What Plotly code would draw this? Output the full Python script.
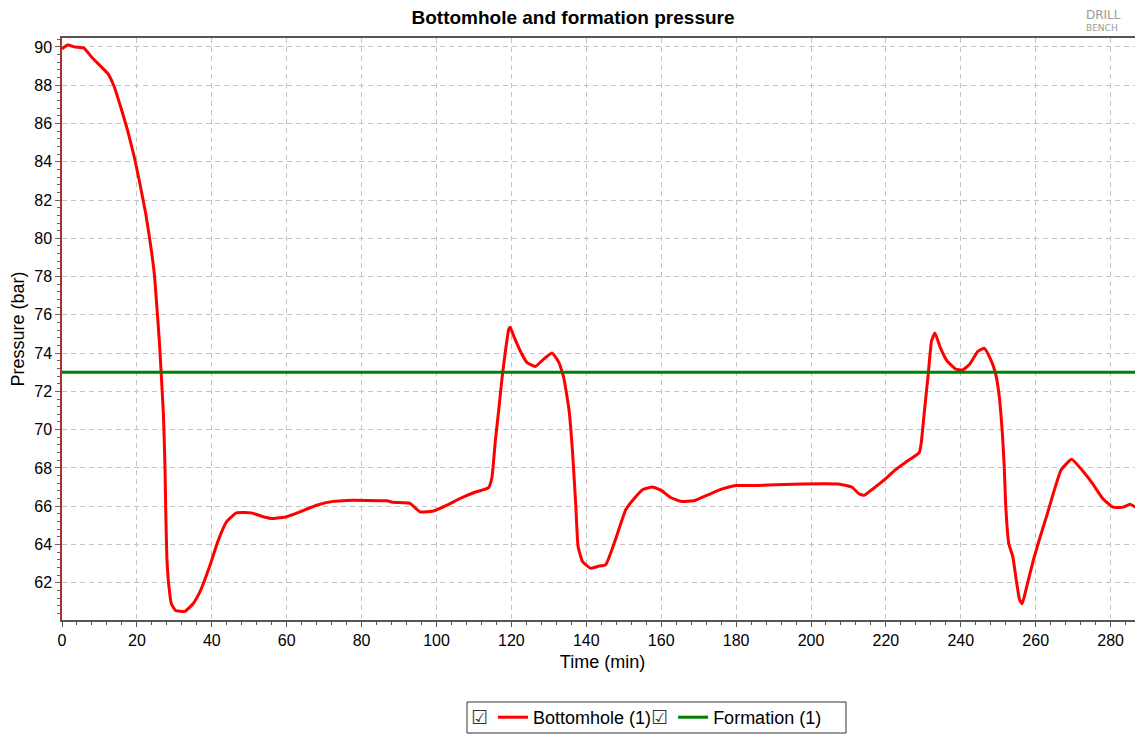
import plotly.graph_objects as go

# ---- data ----
time_min = [0, 1.5, 3.5, 5.8, 8, 10.3, 12.3, 13.9, 15.7, 17.5, 19.3, 20.6, 22.4, 23.8, 24.7,
            25.3, 26.0, 26.5, 27.1, 27.5, 27.7, 28.0, 28.5, 29.2, 30.3, 32.8, 35.0, 37.0,
            39.5, 41.7, 44.0, 46.6, 50.6, 53.7, 56.4, 60.0, 63.5, 68.0, 72.4, 76.0, 86.7,
            88.5, 92.9, 95.6, 99.2, 102.8, 106.3, 109.9, 113.9, 114.8, 115.7, 116.6, 117.5,
            118.4, 119.3, 119.7, 120.6, 122.4, 124.2, 126.4, 128.7, 130.9, 132.7, 134.0,
            135.4, 136.3, 137.2, 137.8, 139.0, 141.2, 143.0, 145.2, 147.7, 150.5, 152.8,
            155.1, 157.7, 160.2, 162.5, 165.3, 169.0, 172.6, 176.3, 180.0, 185.6, 195.3,
            207.7, 210.9, 212.8, 214.2, 216.5, 219.7, 222.5, 225.3, 228.9, 229.4, 230.3,
            231.3, 232.2, 233.1, 234.5, 236.3, 238.6, 240.5, 242.3, 244.6, 246.3, 247.9,
            249.2, 250.2, 251.1, 251.6, 252.0, 252.8, 253.9, 254.8, 255.7, 256.4, 257.6,
            259.4, 261.2, 263.1, 264.9, 266.8, 269.6, 272.3, 275.1, 277.9, 280.6, 283.4,
            285.2, 286.6, 289.0]
bottomhole_bar = [89.9, 90.1, 90.0, 89.95, 89.45, 89.0, 88.6, 87.95, 86.85, 85.65, 84.25,
                  83.05, 81.25, 79.45, 78.05, 76.5, 74.6, 72.9, 70.7, 68.0, 65.8, 63.3, 61.9,
                  60.9, 60.55, 60.5, 60.9, 61.6, 62.9, 64.2, 65.2, 65.65, 65.65, 65.45, 65.35,
                  65.45, 65.7, 66.05, 66.25, 66.3, 66.28, 66.2, 66.15, 65.7, 65.75, 66.05,
                  66.4, 66.7, 66.97, 67.5, 69.4, 71.0, 72.7, 74.1, 75.25, 75.35, 74.9, 74.1,
                  73.5, 73.3, 73.7, 74.0, 73.5, 72.7, 71.0, 68.9, 66.0, 63.9, 63.1, 62.75,
                  62.85, 62.95, 64.2, 65.8, 66.4, 66.87, 67.0, 66.8, 66.45, 66.25, 66.3, 66.6,
                  66.9, 67.08, 67.08, 67.15, 67.15, 67.0, 66.65, 66.57, 66.9, 67.4, 67.9,
                  68.3, 68.8, 69.25, 71.0, 72.9, 74.65, 75.05, 74.3, 73.6, 73.17, 73.12, 73.4,
                  74.1, 74.25, 73.7, 73.0, 71.85, 69.8, 68.05, 66.0, 64.05, 63.35, 62.15,
                  61.1, 60.9, 61.8, 63.2, 64.4, 65.6, 66.8, 67.9, 68.45, 67.9, 67.2, 66.4,
                  65.95, 65.95, 66.1, 65.95, 65.95]
formation_time = [0, 290]
formation_bar = [73.0, 73.0]

FONT = "Liberation Sans, Arial, sans-serif"
CHECK = '<span style="font-family:DejaVu Sans;color:#333333;font-size:19px">☑</span>'

# the page adds an 8px body margin, so the figure is drawn 8px smaller
W, H = 1135, 728
L, T, B = 54, 30, 116
PW, PH = W - L, H - T - B


def px_x(x):  # reference pixel -> paper x
    return (x - 8 - L) / PW


def px_y(y):  # reference pixel -> paper y
    return (H - B - (y - 8)) / PH


fig = go.Figure()
fig.add_trace(go.Scatter(x=time_min, y=bottomhole_bar, mode="lines",
                         name="Bottomhole (1)" + CHECK,
                         line=dict(color="#ff0000", width=3, shape="spline", smoothing=0.4)))
fig.add_trace(go.Scatter(x=formation_time, y=formation_bar, mode="lines",
                         name="Formation (1)",
                         line=dict(color="#008000", width=3)))

fig.update_layout(
    width=W, height=H,
    margin=dict(l=L, r=0, t=T, b=B, autoexpand=False),
    paper_bgcolor="white", plot_bgcolor="white",
    font=dict(family=FONT, size=16, color="#000000"),
    title=dict(text="<b>Bottomhole and formation pressure</b>",
               font=dict(family=FONT, size=19, color="#000000"),
               x=(573 - 8) / W, xanchor="center", yref="container",
               y=1 - (17 - 8) / H, yanchor="middle"),
    showlegend=True,
    legend=dict(orientation="h", x=px_x(468), xanchor="left", y=px_y(717.5), yanchor="middle",
                bgcolor="rgba(0,0,0,0)", borderwidth=0,
                font=dict(family=FONT, size=18, color="#000000"),
                title=dict(text="&nbsp;&nbsp;&nbsp;", side="left",
                           font=dict(family=FONT, size=18))),
    xaxis=dict(range=[0, 288.65], dtick=20, tick0=0, automargin=False,
               showline=True, linecolor="#555555", linewidth=2, mirror=True,
               ticks="outside", ticklen=5, tickcolor="#555555", tickwidth=1,
               showgrid=True, gridcolor="#c4c4c4", griddash="5px,4px", gridwidth=1,
               zeroline=False,
               minor=dict(dtick=4, ticks="outside", ticklen=3, tickcolor="#555555",
                          showgrid=False),
               title=dict(text="Time (min)", font=dict(family=FONT, size=18), standoff=7),
               tickfont=dict(family=FONT, size=16)),
    yaxis=dict(range=[60.05, 90.47], dtick=2, tick0=0, automargin=False,
               showline=True, linecolor="#a83232", linewidth=1.5, mirror=False,
               ticks="outside", ticklen=5, tickcolor="#666666", tickwidth=1,
               showgrid=True, gridcolor="#c4c4c4", griddash="5px,4px", gridwidth=1,
               zeroline=False,
               minor=dict(dtick=0.4, ticks="outside", ticklen=3, tickcolor="#666666",
                          showgrid=False),
               title=dict(text="Pressure (bar)", font=dict(family=FONT, size=18), standoff=7),
               tickfont=dict(family=FONT, size=16)),
)

# legend frame (drawn as a box to match the reference's tight frame)
fig.add_shape(type="rect", xref="paper", yref="paper",
              x0=px_x(467), x1=px_x(846), y0=px_y(733), y1=px_y(702),
              line=dict(color="#333333", width=1), fillcolor="white", layer="above")

# first legend checkbox (before the red line sample)
fig.add_annotation(text="☑", xref="paper", yref="paper",
                   x=px_x(479), y=px_y(717),
                   xanchor="center", yanchor="middle", showarrow=False,
                   font=dict(family="DejaVu Sans", size=19, color="#333333"))

# logo text in the top-right corner
fig.add_annotation(text="DRILL", xref="paper", yref="paper",
                   x=px_x(1085), y=px_y(15.5),
                   xanchor="left", yanchor="middle", showarrow=False, borderpad=0,
                   font=dict(family="DejaVu Sans", size=12, color="#9a9a9a"))
fig.add_annotation(text="BENCH", xref="paper", yref="paper",
                   x=px_x(1085), y=px_y(27.5),
                   xanchor="left", yanchor="middle", showarrow=False, borderpad=0,
                   font=dict(family="DejaVu Sans", size=9, color="#9a9a9a"))

fig.write_html("out.html")
